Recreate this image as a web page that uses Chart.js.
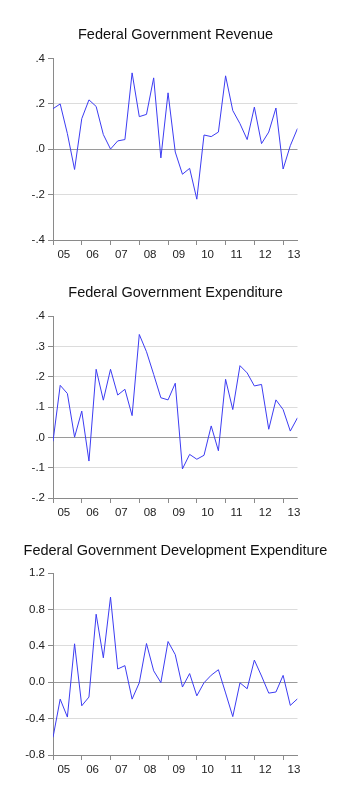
<!DOCTYPE html>
<html>
<head>
<meta charset="utf-8">
<script src="https://cdn.jsdelivr.net/npm/chart.js@4.4.1/dist/chart.umd.min.js"></script>
<style>
  html, body { margin: 0; padding: 0; background: #fff; }
  body { width: 351px; height: 800px; position: relative; overflow: hidden; }
  .box { position: absolute; left: 0; width: 351px; }
</style>
</head>
<body>
<div class="box" id="b1" style="top:0px;height:270px;"><canvas id="c1"></canvas></div>
<div class="box" id="b2" style="top:250px;height:278px;"><canvas id="c2"></canvas></div>
<div class="box" id="b3" style="top:510px;height:275px;"><canvas id="c3"></canvas></div>
<script>
// Quarterly periods 2005Q1 .. 2013Q3
const quarters = [
  '2005Q1','2005Q2','2005Q3','2005Q4','2006Q1','2006Q2','2006Q3','2006Q4',
  '2007Q1','2007Q2','2007Q3','2007Q4','2008Q1','2008Q2','2008Q3','2008Q4',
  '2009Q1','2009Q2','2009Q3','2009Q4','2010Q1','2010Q2','2010Q3','2010Q4',
  '2011Q1','2011Q2','2011Q3','2011Q4','2012Q1','2012Q2','2012Q3','2012Q4',
  '2013Q1','2013Q2','2013Q3'
];
const yearLabels = ['05','06','07','08','09','10','11','12','13'];

const titles = [
  'Federal Government Revenue',
  'Federal Government Expenditure',
  'Federal Government Development Expenditure'
];

const revenue = [
  0.179, 0.200, 0.069, -0.089, 0.135, 0.218, 0.189, 0.065,
  0.001, 0.037, 0.043, 0.337, 0.144, 0.154, 0.315, -0.038,
  0.249, -0.012, -0.110, -0.084, -0.220, 0.063, 0.056, 0.076,
  0.324, 0.171, 0.113, 0.043, 0.186, 0.025, 0.076, 0.182,
  -0.087, 0.016, 0.092
];

const expenditure = [
  -0.013, 0.172, 0.145, 0.001, 0.087, -0.078, 0.225, 0.123,
  0.225, 0.140, 0.159, 0.072, 0.340, 0.283, 0.208, 0.131,
  0.124, 0.179, -0.104, -0.056, -0.072, -0.059, 0.038, -0.044,
  0.192, 0.092, 0.237, 0.213, 0.170, 0.175, 0.027, 0.124,
  0.092, 0.021, 0.065
];

const devExpenditure = [
  -0.606, -0.186, -0.383, 0.422, -0.259, -0.163, 0.747, 0.268,
  0.935, 0.145, 0.182, -0.186, -0.006, 0.425, 0.125, -0.004,
  0.447, 0.303, -0.053, 0.095, -0.150, -0.006, 0.077, 0.137,
  -0.118, -0.378, -0.007, -0.072, 0.243, 0.068, -0.120, -0.108,
  0.075, -0.255, -0.182
];

const yTicks1 = [-0.4, -0.2, 0.0, 0.2, 0.4];
const yTicks2 = [-0.2, -0.1, 0.0, 0.1, 0.2, 0.3, 0.4];
const yTicks3 = [-0.8, -0.4, 0.0, 0.4, 0.8, 1.2];

const FONT = "'Liberation Sans', Arial, sans-serif";
const AXIS = '#8a8a8a';
const GRID = '#dcdcdc';
const ZERO = '#9a9a9a';
const LINE = '#3c3cf2';

function dotFmt(v) {
  const s = Math.abs(v).toFixed(1).replace(/^0/, '');
  return (v < -1e-9 ? '-' : '') + s;
}
function oneFmt(v) {
  const s = Math.abs(v).toFixed(1);
  return (v < -1e-9 ? '-' : '') + s;
}

function makeChart(id, title, values, yTicks, fmt, pad) {
  const pts = quarters.map((q, i) => ({ x: i, y: values[i] }));
  const yMin = yTicks[0], yMax = yTicks[yTicks.length - 1];
  return new Chart(document.getElementById(id), {
    type: 'line',
    data: { datasets: [{ data: pts, borderColor: LINE, borderWidth: 1, pointRadius: 0, tension: 0, fill: false }] },
    options: {
      responsive: true,
      maintainAspectRatio: false,
      animation: false,
      devicePixelRatio: 1,
      layout: { padding: { top: pad.top, bottom: 6, left: 0, right: 0 } },
      plugins: {
        legend: { display: false },
        tooltip: { enabled: false },
        title: {
          display: true, text: title, color: '#111',
          font: { family: FONT, size: 14.5, weight: 'normal' },
          padding: { top: 0, bottom: pad.tb }
        }
      },
      scales: {
        x: {
          type: 'linear', min: 0, max: quarters.length - 1,
          afterBuildTicks: (s) => {
            const t = [];
            for (let k = 0; k < yearLabels.length; k++) {
              t.push({ value: k * 4 });
              t.push({ value: k * 4 + 1.5 });
            }
            s.ticks = t;
          },
          afterFit: (s) => { s.height = 24; },
          ticks: {
            autoSkip: false, maxRotation: 0, minRotation: 0, padding: 3,
            color: '#222', font: { family: FONT, size: 11.5 },
            callback: (v) => (Math.abs(v % 4) < 1e-6 ? '' : yearLabels[Math.floor(v / 4)])
          },
          grid: {
            drawOnChartArea: false, tickLength: 5,
            tickColor: (c) => (c.tick && Math.abs(c.tick.value % 4) < 1e-6 ? AXIS : 'rgba(0,0,0,0)')
          },
          border: { color: AXIS, width: 1 }
        },
        y: {
          type: 'linear', min: yMin, max: yMax,
          afterBuildTicks: (s) => { s.ticks = yTicks.map(v => ({ value: v })); },
          afterFit: (s) => { s.width = 53; },
          ticks: {
            padding: 3, color: '#222', font: { family: FONT, size: 11.5 },
            callback: (v) => fmt(v)
          },
          grid: {
            tickLength: 5, tickColor: AXIS,
            color: (c) => {
              const v = c.tick ? c.tick.value : null;
              if (v === null) return GRID;
              if (Math.abs(v) < 1e-9) return ZERO;
              if (Math.abs(v - yMin) < 1e-9 || Math.abs(v - yMax) < 1e-9) return 'rgba(0,0,0,0)';
              return GRID;
            }
          },
          border: { color: AXIS, width: 1 }
        },
        yRight: {
          type: 'linear', position: 'right', min: yMin, max: yMax,
          afterFit: (s) => { s.width = 53.5; },
          ticks: { display: false },
          grid: { display: false, drawTicks: false },
          border: { display: false }
        }
      }
    }
  });
}

makeChart('c1', titles[0], revenue, yTicks1, dotFmt, { top: 26.6, tb: 14.6 });
makeChart('c2', titles[1], expenditure, yTicks2, dotFmt, { top: 34.3, tb: 14.6 });
makeChart('c3', titles[2], devExpenditure, yTicks3, oneFmt, { top: 32.3, tb: 13.3 });
</script>
</body>
</html>
